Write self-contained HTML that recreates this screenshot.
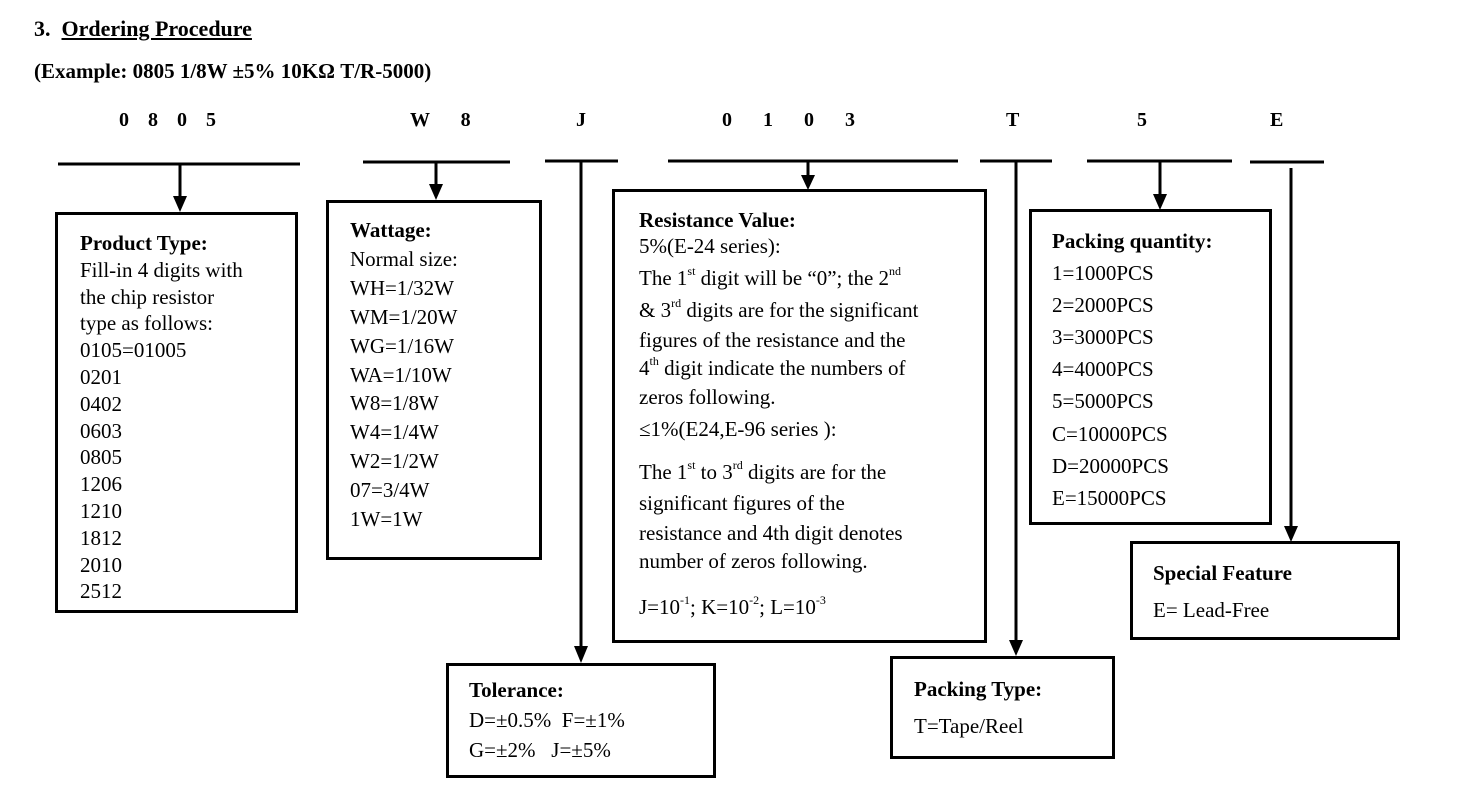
<!DOCTYPE html>
<html><head><meta charset="utf-8"><style>
body{margin:0;width:1467px;height:803px;background:#fff;position:relative;overflow:hidden;font-family:"Liberation Serif",serif;color:#000}
.t{position:absolute;font-size:21px;white-space:nowrap;line-height:1}
.b{font-weight:bold}
.blk{position:absolute;font-size:21px;white-space:nowrap}
sup{font-size:12px;vertical-align:top;position:relative;top:-3px;line-height:1}
.box{position:absolute;border:3px solid #000;box-sizing:border-box}
</style></head><body>
<div class="t b" style="left:34px;top:18px;font-size:22px">3.&nbsp; <u>Ordering Procedure</u></div>
<div class="t b" style="left:34px;top:61px;font-size:21px">(Example: 0805 1/8W ±5% 10KΩ T/R-5000)</div>

<div class="t b" style="left:119px;top:110px;font-size:20px;word-spacing:14px">0 8 0 5</div>
<div class="t b" style="left:410px;top:110px;font-size:20px;word-spacing:26px">W 8</div>
<div class="t b" style="left:576px;top:110px;font-size:20px">J</div>
<div class="t b" style="left:722px;top:110px;font-size:20px;word-spacing:26px">0 1 0 3</div>
<div class="t b" style="left:1006px;top:110px;font-size:20px">T</div>
<div class="t b" style="left:1137px;top:110px;font-size:20px">5</div>
<div class="t b" style="left:1270px;top:110px;font-size:20px">E</div>

<svg width="1467" height="803" style="position:absolute;left:0;top:0">
<g stroke="#000" stroke-width="3" fill="none">
<line x1="58" y1="164" x2="300" y2="164"/>
<line x1="363" y1="162" x2="510" y2="162"/>
<line x1="545" y1="161" x2="618" y2="161"/>
<line x1="668" y1="161" x2="958" y2="161"/>
<line x1="980" y1="161" x2="1052" y2="161"/>
<line x1="1087" y1="161" x2="1232" y2="161"/>
<line x1="1250" y1="162" x2="1324" y2="162"/>
<line x1="180" y1="164" x2="180" y2="198"/>
<line x1="436" y1="162" x2="436" y2="186"/>
<line x1="581" y1="161" x2="581" y2="648"/>
<line x1="808" y1="161" x2="808" y2="177"/>
<line x1="1016" y1="161" x2="1016" y2="642"/>
<line x1="1160" y1="161" x2="1160" y2="196"/>
<line x1="1291" y1="168" x2="1291" y2="528"/>
</g>
<g fill="#000">
<polygon points="173,196 187,196 180,212"/>
<polygon points="429,184 443,184 436,200"/>
<polygon points="574,646 588,646 581,663"/>
<polygon points="801,175 815,175 808,190"/>
<polygon points="1009,640 1023,640 1016,656"/>
<polygon points="1153,194 1167,194 1160,210"/>
<polygon points="1284,526 1298,526 1291,542"/>
</g>
</svg>

<div class="box" style="left:55px;top:212px;width:243px;height:401px"></div>
<div class="blk" style="left:80px;top:230px;line-height:26.8px"><b>Product Type:</b><br>Fill-in 4 digits with<br>the chip resistor<br>type as follows:<br>0105=01005<br>0201<br>0402<br>0603<br>0805<br>1206<br>1210<br>1812<br>2010<br>2512</div>

<div class="box" style="left:326px;top:200px;width:216px;height:360px"></div>
<div class="blk" style="left:350px;top:216px;line-height:28.9px"><b>Wattage:</b><br>Normal size:<br>WH=1/32W<br>WM=1/20W<br>WG=1/16W<br>WA=1/10W<br>W8=1/8W<br>W4=1/4W<br>W2=1/2W<br>07=3/4W<br>1W=1W</div>

<div class="box" style="left:612px;top:189px;width:375px;height:454px"></div>
<div class="t b" style="left:639px;top:210px">Resistance Value:</div>
<div class="t" style="left:639px;top:236px">5%(E-24 series):</div>
<div class="t" style="left:639px;top:268px">The 1<sup>st</sup> digit will be “0”; the 2<sup>nd</sup></div>
<div class="t" style="left:639px;top:300px">&amp; 3<sup>rd</sup> digits are for the significant</div>
<div class="t" style="left:639px;top:330px">figures of the resistance and the</div>
<div class="t" style="left:639px;top:358px">4<sup>th</sup> digit indicate the numbers of</div>
<div class="t" style="left:639px;top:387px">zeros following.</div>
<div class="t" style="left:639px;top:419px">≤1%(E24,E-96 series ):</div>
<div class="t" style="left:639px;top:462px">The 1<sup>st</sup> to 3<sup>rd</sup> digits are for the</div>
<div class="t" style="left:639px;top:493px">significant figures of the</div>
<div class="t" style="left:639px;top:523px">resistance and 4th digit denotes</div>
<div class="t" style="left:639px;top:551px">number of zeros following.</div>
<div class="t" style="left:639px;top:597px">J=10<sup>-1</sup>; K=10<sup>-2</sup>; L=10<sup>-3</sup></div>

<div class="box" style="left:446px;top:663px;width:270px;height:115px"></div>
<div class="blk" style="left:469px;top:675px;line-height:30px"><b>Tolerance:</b><br>D=±0.5%&nbsp; F=±1%<br>G=±2%&nbsp;&nbsp; J=±5%</div>

<div class="box" style="left:1029px;top:209px;width:243px;height:316px"></div>
<div class="blk" style="left:1052px;top:225px;line-height:32.1px"><b>Packing quantity:</b><br>1=1000PCS<br>2=2000PCS<br>3=3000PCS<br>4=4000PCS<br>5=5000PCS<br>C=10000PCS<br>D=20000PCS<br>E=15000PCS</div>

<div class="box" style="left:890px;top:656px;width:225px;height:103px"></div>
<div class="blk" style="left:914px;top:671px;line-height:37px"><b>Packing Type:</b><br>T=Tape/Reel</div>

<div class="box" style="left:1130px;top:541px;width:270px;height:99px"></div>
<div class="blk" style="left:1153px;top:555px;line-height:37px"><b>Special Feature</b><br>E= Lead-Free</div>
</body></html>
